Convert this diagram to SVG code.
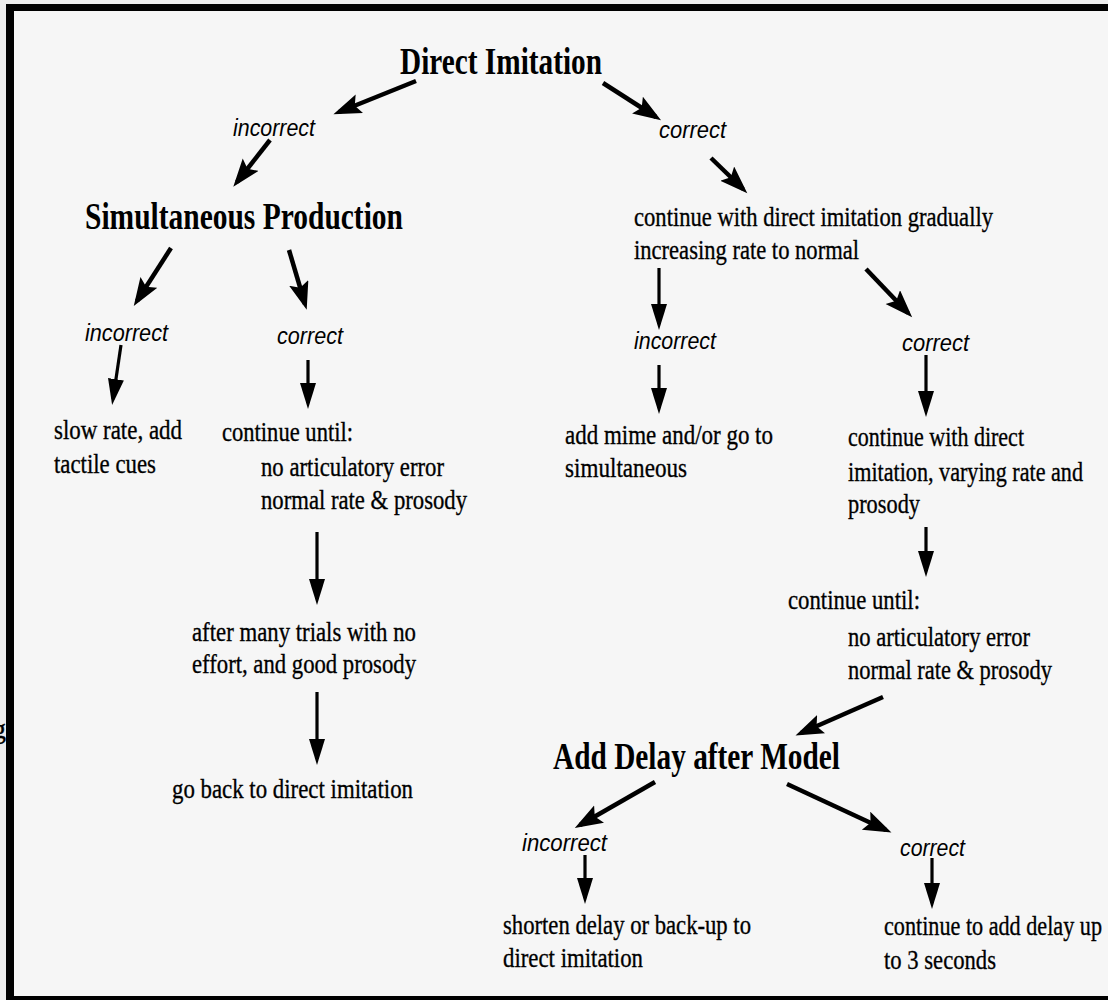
<svg xmlns="http://www.w3.org/2000/svg" width="1108" height="1000" viewBox="0 0 1108 1000">
<style>
.h{font-family:"Liberation Serif","Times New Roman",serif;font-weight:bold;font-size:38px;fill:#000}
.t{font-family:"Liberation Serif","Times New Roman",serif;font-size:28px;fill:#000;stroke:#000;stroke-width:0.35}
.l{font-family:"Liberation Sans",Arial,sans-serif;font-style:italic;font-size:24px;fill:#000}
.big{stroke:#000;stroke-width:4.5;fill:none;marker-end:url(#hb)}
.sm{stroke:#000;stroke-width:3.2;fill:none;marker-end:url(#hs)}
</style>
<defs>
<marker id="hb" markerUnits="userSpaceOnUse" markerWidth="32" markerHeight="24" refX="22" refY="10" orient="auto">
<path d="M0,0 L28,10 L0,20 L5,10 Z" fill="#000"/>
</marker>
<marker id="hs" markerUnits="userSpaceOnUse" markerWidth="30" markerHeight="18" refX="20" refY="8" orient="auto">
<path d="M0,0 L26,8 L0,16 Z" fill="#000"/>
</marker>
</defs>
<rect x="0" y="0" width="1108" height="1000" fill="#f6f6f6"/>
<rect x="0" y="0" width="1108" height="4" fill="#ececec"/>
<rect x="0" y="0" width="6" height="1000" fill="#ececec"/>
<text class="t" x="-8" y="738">g</text>
<g id="border" fill="#000">
<rect x="6" y="4" width="1102" height="7"/>
<rect x="6" y="4" width="8" height="996"/>
<rect x="6" y="996" width="1102" height="4"/>
</g>
<g id="connectors">
<line class="big" x1="416" y1="81" x2="339" y2="112"/>
<line class="big" x1="270" y1="140" x2="237" y2="182"/>
<line class="big" x1="603" y1="83" x2="656" y2="117"/>
<line class="big" x1="711" y1="158" x2="743" y2="189"/>
<line class="big" x1="171" y1="248" x2="137" y2="301"/>
<line class="big" x1="289" y1="250" x2="305" y2="304"/>
<line class="big" x1="866" y1="269" x2="908" y2="313"/>
<line class="big" x1="883" y1="697" x2="801" y2="733"/>
<line class="big" x1="655" y1="782" x2="580" y2="825"/>
<line class="big" x1="787" y1="784" x2="886" y2="830"/>
<line class="sm" x1="121" y1="345" x2="113" y2="399"/>
<line class="sm" x1="308" y1="360" x2="308" y2="403"/>
<line class="sm" x1="317" y1="532" x2="317" y2="599"/>
<line class="sm" x1="317" y1="692" x2="317" y2="759"/>
<line class="sm" x1="659" y1="268" x2="659" y2="324"/>
<line class="sm" x1="659" y1="365" x2="659" y2="408"/>
<line class="sm" x1="926" y1="355" x2="926" y2="411"/>
<line class="sm" x1="926" y1="527" x2="926" y2="571"/>
<line class="sm" x1="585" y1="855" x2="585" y2="898"/>
<line class="sm" x1="932" y1="858" x2="932" y2="903"/>
</g>
<g id="direct-imitation"><text class="h" x="400" y="74" textLength="202" lengthAdjust="spacingAndGlyphs">Direct Imitation</text></g>
<g id="lbl-incorrect-1"><text class="l" x="233" y="136" textLength="82" lengthAdjust="spacingAndGlyphs">incorrect</text></g>
<g id="lbl-correct-1"><text class="l" x="659" y="138" textLength="67" lengthAdjust="spacingAndGlyphs">correct</text></g>
<g id="simultaneous"><text class="h" x="85" y="229" textLength="318" lengthAdjust="spacingAndGlyphs">Simultaneous Production</text></g>
<g id="continue-gradually">
<text class="t" x="634" y="226" textLength="359" lengthAdjust="spacingAndGlyphs">continue with direct imitation gradually</text>
<text class="t" x="634" y="259" textLength="225" lengthAdjust="spacingAndGlyphs">increasing rate to normal</text>
</g>
<g id="lbl-incorrect-2"><text class="l" x="85" y="341" textLength="83" lengthAdjust="spacingAndGlyphs">incorrect</text></g>
<g id="lbl-correct-2"><text class="l" x="277" y="344" textLength="66" lengthAdjust="spacingAndGlyphs">correct</text></g>
<g id="lbl-incorrect-3"><text class="l" x="634" y="349" textLength="82" lengthAdjust="spacingAndGlyphs">incorrect</text></g>
<g id="lbl-correct-3"><text class="l" x="902" y="351" textLength="67" lengthAdjust="spacingAndGlyphs">correct</text></g>
<g id="slow-rate">
<text class="t" x="54" y="439" textLength="128" lengthAdjust="spacingAndGlyphs">slow rate, add</text>
<text class="t" x="54" y="473" textLength="102" lengthAdjust="spacingAndGlyphs">tactile cues</text>
</g>
<g id="continue-until-1">
<text class="t" x="222" y="441" textLength="131" lengthAdjust="spacingAndGlyphs">continue until:</text>
<text class="t" x="261" y="476" textLength="183" lengthAdjust="spacingAndGlyphs">no articulatory error</text>
<text class="t" x="261" y="509" textLength="206" lengthAdjust="spacingAndGlyphs">normal rate &amp; prosody</text>
</g>
<g id="after-many-trials">
<text class="t" x="192" y="641" textLength="224" lengthAdjust="spacingAndGlyphs">after many trials with no</text>
<text class="t" x="192" y="673" textLength="224" lengthAdjust="spacingAndGlyphs">effort, and good prosody</text>
</g>
<g id="go-back"><text class="t" x="172" y="798" textLength="241" lengthAdjust="spacingAndGlyphs">go back to direct imitation</text></g>
<g id="add-mime">
<text class="t" x="565" y="444" textLength="208" lengthAdjust="spacingAndGlyphs">add mime and/or go to</text>
<text class="t" x="565" y="477" textLength="122" lengthAdjust="spacingAndGlyphs">simultaneous</text>
</g>
<g id="continue-varying">
<text class="t" x="848" y="446" textLength="176" lengthAdjust="spacingAndGlyphs">continue with direct</text>
<text class="t" x="848" y="481" textLength="235" lengthAdjust="spacingAndGlyphs">imitation, varying rate and</text>
<text class="t" x="848" y="513" textLength="72" lengthAdjust="spacingAndGlyphs">prosody</text>
</g>
<g id="continue-until-2">
<text class="t" x="788" y="609" textLength="132" lengthAdjust="spacingAndGlyphs">continue until:</text>
<text class="t" x="848" y="646" textLength="182" lengthAdjust="spacingAndGlyphs">no articulatory error</text>
<text class="t" x="848" y="679" textLength="204" lengthAdjust="spacingAndGlyphs">normal rate &amp; prosody</text>
</g>
<g id="add-delay"><text class="h" x="553" y="769" textLength="287" lengthAdjust="spacingAndGlyphs">Add Delay after Model</text></g>
<g id="lbl-incorrect-4"><text class="l" x="522" y="851" textLength="85" lengthAdjust="spacingAndGlyphs">incorrect</text></g>
<g id="lbl-correct-4"><text class="l" x="900" y="856" textLength="65" lengthAdjust="spacingAndGlyphs">correct</text></g>
<g id="shorten-delay">
<text class="t" x="503" y="934" textLength="248" lengthAdjust="spacingAndGlyphs">shorten delay or back-up to</text>
<text class="t" x="503" y="967" textLength="140" lengthAdjust="spacingAndGlyphs">direct imitation</text>
</g>
<g id="continue-add-delay">
<text class="t" x="884" y="935" textLength="218" lengthAdjust="spacingAndGlyphs">continue to add delay up</text>
<text class="t" x="884" y="969" textLength="112" lengthAdjust="spacingAndGlyphs">to 3 seconds</text>
</g>
</svg>
